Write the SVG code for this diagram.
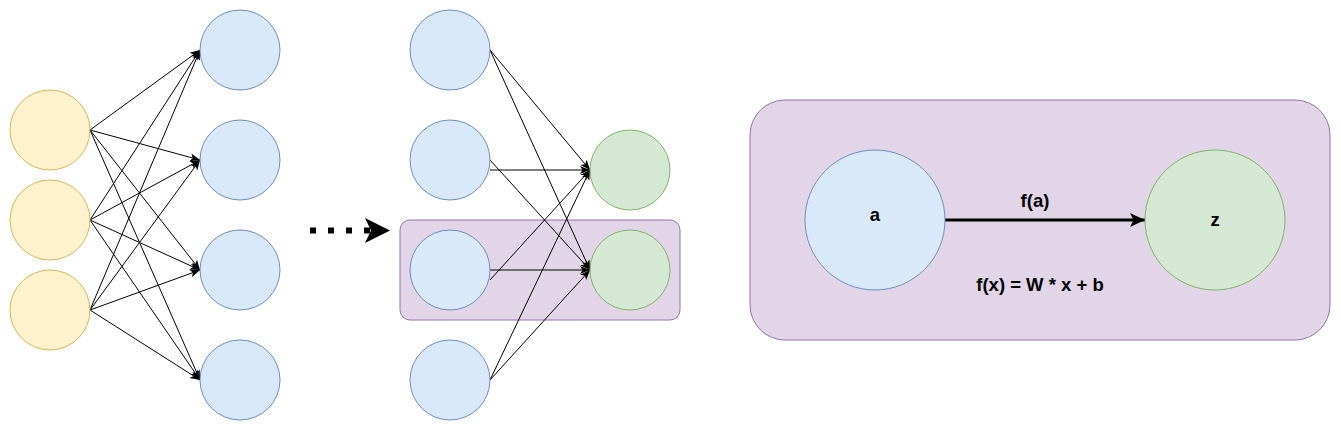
<svg xmlns="http://www.w3.org/2000/svg" width="1341" height="432" viewBox="0 0 1341 432">
<style>
.in{fill:#fff2cc;stroke:#d6b656;stroke-width:1}
.hid{fill:#dae8fc;stroke:#6c8ebf;stroke-width:1}
.out{fill:#d5e8d4;stroke:#82b366;stroke-width:1}
.grp{fill:#e1d5e7;stroke:#9673a6;stroke-width:1}
.e{fill:none;stroke:#000;stroke-width:1;marker-end:url(#arr)}
.lbl{font-family:"Liberation Sans",Arial,sans-serif;font-size:18.5px;font-weight:bold;fill:#000;text-anchor:middle}
</style>
<defs>
<marker id="arr" markerUnits="userSpaceOnUse" markerWidth="10" markerHeight="8" refX="10" refY="4" orient="auto" overflow="visible">
<path d="M0,0 L10,4 L0,8 L2.5,4 Z" fill="#000"/>
</marker>
<marker id="arrBig" markerUnits="userSpaceOnUse" markerWidth="16" markerHeight="14" refX="15" refY="7" orient="auto" overflow="visible">
<path d="M0,0 L15,7 L0,14 L3.5,7 Z" fill="#000"/>
</marker>
</defs>
<rect width="1341" height="432" fill="#ffffff"/>

<g id="group-middle">
<rect x="400" y="220" width="280" height="100" rx="10" ry="10" class="grp"/>
</g>
<g id="group-right">
<rect x="750" y="100" width="580" height="240" rx="35" ry="35" class="grp"/>
</g>

<g id="connectors">
<line class="e" x1="90" y1="130" x2="200" y2="50"/>
<line class="e" x1="90" y1="130" x2="200" y2="160"/>
<line class="e" x1="90" y1="130" x2="200" y2="270"/>
<line class="e" x1="90" y1="130" x2="200" y2="380"/>
<line class="e" x1="90" y1="220" x2="200" y2="50"/>
<line class="e" x1="90" y1="220" x2="200" y2="160"/>
<line class="e" x1="90" y1="220" x2="200" y2="270"/>
<line class="e" x1="90" y1="220" x2="200" y2="380"/>
<line class="e" x1="90" y1="310" x2="200" y2="50"/>
<line class="e" x1="90" y1="310" x2="200" y2="160"/>
<line class="e" x1="90" y1="310" x2="200" y2="270"/>
<line class="e" x1="90" y1="310" x2="200" y2="380"/>
<line class="e" x1="490" y1="50" x2="590" y2="170"/>
<line class="e" x1="490" y1="50" x2="590" y2="270"/>
<line class="e" x1="490" y1="170" x2="590" y2="170"/>
<line class="e" x1="490" y1="160" x2="590" y2="270"/>
<line class="e" x1="490" y1="280" x2="590" y2="170"/>
<line class="e" x1="490" y1="270" x2="590" y2="270"/>
<line class="e" x1="490" y1="380" x2="590" y2="170"/>
<line class="e" x1="490" y1="380" x2="590" y2="270"/>
<line x1="310" y1="230.5" x2="370" y2="230.5" stroke="#000" stroke-width="6" stroke-dasharray="6 12"/>
<path d="M390,230.5 L365,218 L371,230.5 L365,243 Z" fill="#000"/>
<line x1="945" y1="220" x2="1145" y2="220" stroke="#000" stroke-width="3" marker-end="url(#arrBig)"/>
</g>

<g id="input-1"><circle cx="50" cy="130" r="40" class="in"/></g>
<g id="input-2"><circle cx="50" cy="220" r="40" class="in"/></g>
<g id="input-3"><circle cx="50" cy="310" r="40" class="in"/></g>

<g id="hidden1-1"><circle cx="240" cy="50" r="40" class="hid"/></g>
<g id="hidden1-2"><circle cx="240" cy="160" r="40" class="hid"/></g>
<g id="hidden1-3"><circle cx="240" cy="270" r="40" class="hid"/></g>
<g id="hidden1-4"><circle cx="240" cy="380" r="40" class="hid"/></g>

<g id="hidden2-1"><circle cx="450" cy="50" r="40" class="hid"/></g>
<g id="hidden2-2"><circle cx="450" cy="160" r="40" class="hid"/></g>
<g id="hidden2-3"><circle cx="450" cy="270" r="40" class="hid"/></g>
<g id="hidden2-4"><circle cx="450" cy="380" r="40" class="hid"/></g>

<g id="output-1"><circle cx="630" cy="170" r="40" class="out"/></g>
<g id="output-2"><circle cx="630" cy="270" r="40" class="out"/></g>

<g id="node-a">
<circle cx="875" cy="220" r="70" class="hid"/>
<text x="875" y="221" class="lbl">a</text>
</g>
<g id="node-z">
<circle cx="1215" cy="220" r="70" class="out"/>
<text x="1215" y="226" class="lbl">z</text>
</g>
<g id="labels">
<text x="1035" y="207" class="lbl">f(a)</text>
<text x="1040" y="291" class="lbl">f(x) = W * x + b</text>
</g>
</svg>
